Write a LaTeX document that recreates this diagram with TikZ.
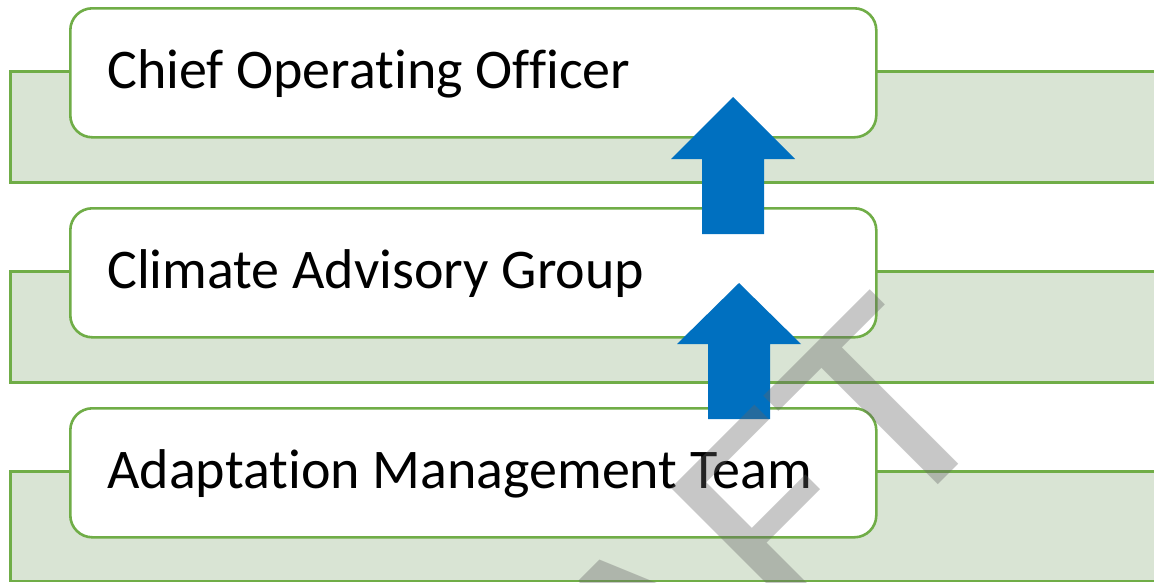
\documentclass[tikz,border=0pt]{standalone}
\usepackage{graphicx}
\usepackage{fontspec}
\setmainfont[Ligatures=NoCommon]{Carlito}
\definecolor{bandfill}{RGB}{217,228,212}
\definecolor{bandline}{RGB}{112,173,71}
\definecolor{arrowblue}{RGB}{0,112,192}
\definecolor{wmgray}{RGB}{100,100,100}
\tikzset{
  band/.style={draw=bandline, fill=bandfill, line width=2.6pt},
  levelbox/.style={draw=bandline, fill=white, line width=2.6pt, rounded corners=22pt,
    minimum width=806pt, minimum height=129pt, inner sep=0pt, anchor=north west},
  lbl/.style={font=\fontsize{56}{60}\selectfont, text=black, inner sep=0pt, anchor=base west},
  blockarrow/.style={fill=arrowblue, draw=none},
  watermark/.style={font=\fontsize{290}{300}\selectfont, text=wmgray, opacity=0.36,
    inner sep=0pt, rotate=45, anchor=base east}
}
\begin{document}
\begin{tikzpicture}[x=1pt,y=-1pt]
\useasboundingbox (0,0) rectangle (1154,582);
\clip (0,0) rectangle (1154,582);
% bands
\draw[band] (10.5,71.5) rectangle (1170,182.5);
\draw[band] (10.5,271.5) rectangle (1170,382.5);
\draw[band] (10.5,471.5) rectangle (1170,581);
% boxes
\node[levelbox] (coo) at (69,7) {};
\node[levelbox] (cag) at (69,207) {};
\node[levelbox] (amt) at (69,407) {};
\node[lbl] (coot) at (107,88) {Chief Operating Officer};
\node[lbl] (cagt) at (107,288) {Climate Advisory Group};
\node[lbl] (amtt) at (107,488) {Adaptation Management Team};
% block arrows
\fill[blockarrow] (702,234) -- (702,159) -- (671,159) -- (733,97) -- (795,159) -- (764,159) -- (764,234) -- cycle;
\fill[blockarrow] (708,419) -- (708,344) -- (677,344) -- (739,283) -- (801,344) -- (770,344) -- (770,419) -- cycle;
% watermark
\node[watermark] (wm) at (1005,418) {\scalebox{1.12}[1]{DRAFT}};
\end{tikzpicture}
\end{document}
